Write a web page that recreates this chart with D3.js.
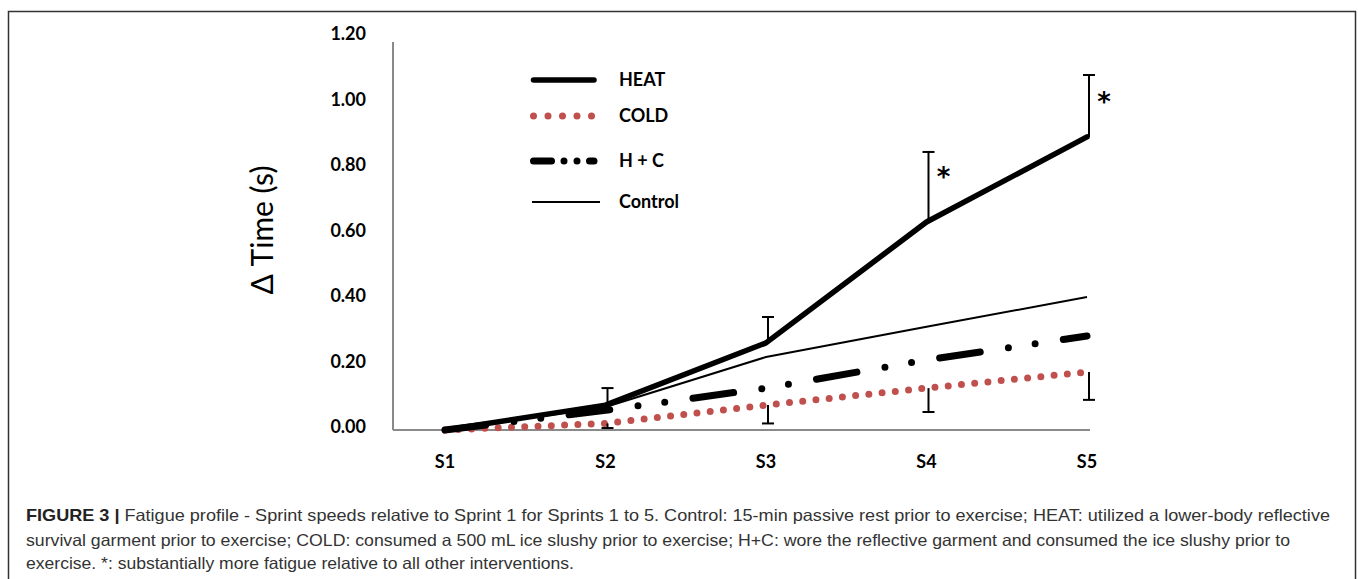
<!DOCTYPE html>
<html>
<head>
<meta charset="utf-8">
<script src="https://cdn.jsdelivr.net/npm/d3@7"></script>
<style>
  body { margin: 0; background: #fff; }
  svg { display: block; }
</style>
</head>
<body>
<div id="chart"></div>
<script>
// Data
const sprints = ['S1', 'S2', 'S3', 'S4', 'S5']
const heat = [0, 0.076, 0.266, 0.635, 0.895]
const heatErrUp = [0, 0.052, 0.079, 0.214, 0.189]
const cold = [0, 0.02, 0.076, 0.128, 0.177]
const coldErrDown = [0, 0.014, 0.056, 0.073, 0.085]
const hc = [0, 0.06, 0.128, 0.214, 0.287]
const control = [0, 0.07, 0.223, 0.315, 0.406]
const yTicks = [0, 0.2, 0.4, 0.6, 0.8, 1.0, 1.2]
const sigMarks = [{ s: 'S4', v: 0.8 }, { s: 'S5', v: 1.03 }]
const captionLines = [
  'Fatigue profile - Sprint speeds relative to Sprint 1 for Sprints 1 to 5. Control: 15-min passive rest prior to exercise; HEAT: utilized a lower-body reflective',
  'survival garment prior to exercise; COLD: consumed a 500 mL ice slushy prior to exercise; H+C: wore the reflective garment and consumed the ice slushy prior to',
  'exercise. *: substantially more fatigue relative to all other interventions.'
]

const W = 1358, H = 579
const svg = d3.select('#chart').append('svg')
  .attr('width', W).attr('height', H)

// frame round the figure (open at the bottom)
svg.append('path')
  .attr('d', `M8.5,${H} V11.5 H1355.5 V${H}`)
  .attr('fill', 'none').attr('stroke', '#333').attr('stroke-width', 1.5)

// scales
const x = d3.scalePoint().domain(sprints).range([445, 1087])
const y = d3.scaleLinear().domain([0, 1.2]).range([430, 37])

const tickFont = 'Lato, "Open Sans", sans-serif'

// axes lines
svg.append('line')
  .attr('x1', 393).attr('x2', 393).attr('y1', y(1.2) + 5).attr('y2', y(0))
  .attr('stroke', '#8a8a8a').attr('stroke-width', 2)
svg.append('line')
  .attr('x1', 393).attr('x2', x('S5') + 3).attr('y1', y(0)).attr('y2', y(0))
  .attr('stroke', '#8a8a8a').attr('stroke-width', 2)

// y tick labels
svg.append('g').selectAll('text')
  .data(yTicks).join('text')
  .attr('x', 366).attr('y', d => y(d) - 3)
  .attr('dy', '0.35em')
  .attr('text-anchor', 'end')
  .attr('font-family', tickFont).attr('font-weight', 'bold').attr('font-size', 18)
  .text(d => d.toFixed(2))

// x tick labels
svg.append('g').selectAll('text')
  .data(sprints).join('text')
  .attr('x', d => x(d)).attr('y', 462)
  .attr('dy', '0.35em')
  .attr('text-anchor', 'middle')
  .attr('font-family', tickFont).attr('font-weight', 'bold').attr('font-size', 18)
  .text(d => d)

// y axis title
svg.append('text')
  .attr('transform', `translate(273,230) rotate(-90)`)
  .attr('text-anchor', 'middle')
  .attr('font-family', tickFont).attr('font-size', 30)
  .text('Δ Time (s)')

const line = d3.line().x((d, i) => x(sprints[i])).y(d => y(d))

// series styles
const series = [
  { name: 'HEAT', data: heat, color: '#000', width: 5.5, dash: null, legDash: null, cap: 'round' },
  { name: 'COLD', data: cold, color: '#c0504d', width: 7, dash: '0 13.3', legDash: '0 14.5', cap: 'round' },
  { name: 'H + C', data: hc, color: '#000', width: 7, dash: '41 28.5 0 27 0 28.5', legDash: '18 12.5 0 13 0 12.5', cap: 'round' },
  { name: 'Control', data: control, color: '#000', width: 2, dash: null, legDash: null, cap: 'butt' }
]

// draw order: control, cold, h+c, heat on top
const drawOrder = [3, 1, 2, 0]
svg.append('g').selectAll('path')
  .data(drawOrder.map(i => series[i])).join('path')
  .attr('d', d => line(d.data))
  .attr('fill', 'none')
  .attr('stroke', d => d.color)
  .attr('stroke-width', d => d.width)
  .attr('stroke-dasharray', d => d.dash)
  .attr('stroke-linecap', d => d.cap)
  .attr('stroke-linejoin', 'round')

// error bars
const errs = []
sprints.forEach((s, i) => {
  if (i === 0) return
  errs.push({ s, v0: heat[i], v1: heat[i] + heatErrUp[i] })
  errs.push({ s, v0: cold[i], v1: cold[i] - coldErrDown[i] })
})
const eg = svg.append('g').attr('stroke', '#000').attr('stroke-width', 2)
eg.selectAll('line.bar')
  .data(errs).join('line').attr('class', 'bar')
  .attr('x1', d => x(d.s) + 2).attr('x2', d => x(d.s) + 2)
  .attr('y1', d => y(d.v0)).attr('y2', d => y(d.v1))
eg.selectAll('line.cap')
  .data(errs).join('line').attr('class', 'cap')
  .attr('x1', d => x(d.s) - 4).attr('x2', d => x(d.s) + 8)
  .attr('y1', d => y(d.v1)).attr('y2', d => y(d.v1))

// significance asterisks
svg.append('g').selectAll('text')
  .data(sigMarks).join('text')
  .attr('x', d => x(d.s) + 17).attr('y', d => y(d.v))
  .attr('dy', '0.7em')
  .attr('text-anchor', 'middle')
  .attr('font-family', '"DejaVu Sans", sans-serif').attr('font-weight', 'bold').attr('font-size', 26)
  .text('*')

// legend
const legY = [80, 116, 161, 202]
const leg = svg.append('g').selectAll('g')
  .data(series).join('g')
  .attr('transform', (d, i) => `translate(0,${legY[i]})`)
leg.append('line')
  .attr('x1', (d, i) => i === 3 ? 532 : 533.5)
  .attr('x2', (d, i) => i === 3 ? 600 : 594)
  .attr('stroke', d => d.color)
  .attr('stroke-width', d => d.width)
  .attr('stroke-dasharray', d => d.legDash)
  .attr('stroke-linecap', d => d.cap)
leg.append('text')
  .attr('x', 619).attr('dy', '0.35em')
  .attr('font-family', tickFont).attr('font-weight', 'bold').attr('font-size', 18)
  .text(d => d.name)

// caption
const capFont = '"Liberation Sans", Arial, sans-serif'
const capY = [515, 540, 563]
const capW = [1304, 1264, 548]
const cap = svg.append('g')
  .attr('font-family', capFont).attr('font-size', 16.5).attr('fill', '#333')
captionLines.forEach((t, i) => {
  const txt = cap.append('text')
    .attr('x', 26).attr('y', capY[i]).attr('dy', '0.35em')
    .attr('textLength', capW[i]).attr('lengthAdjust', 'spacingAndGlyphs')
  if (i === 0) {
    txt.append('tspan').attr('font-weight', 'bold').attr('fill', '#222').text('FIGURE 3 | ')
  }
  txt.append('tspan').text(t)
})
</script>
</body>
</html>
